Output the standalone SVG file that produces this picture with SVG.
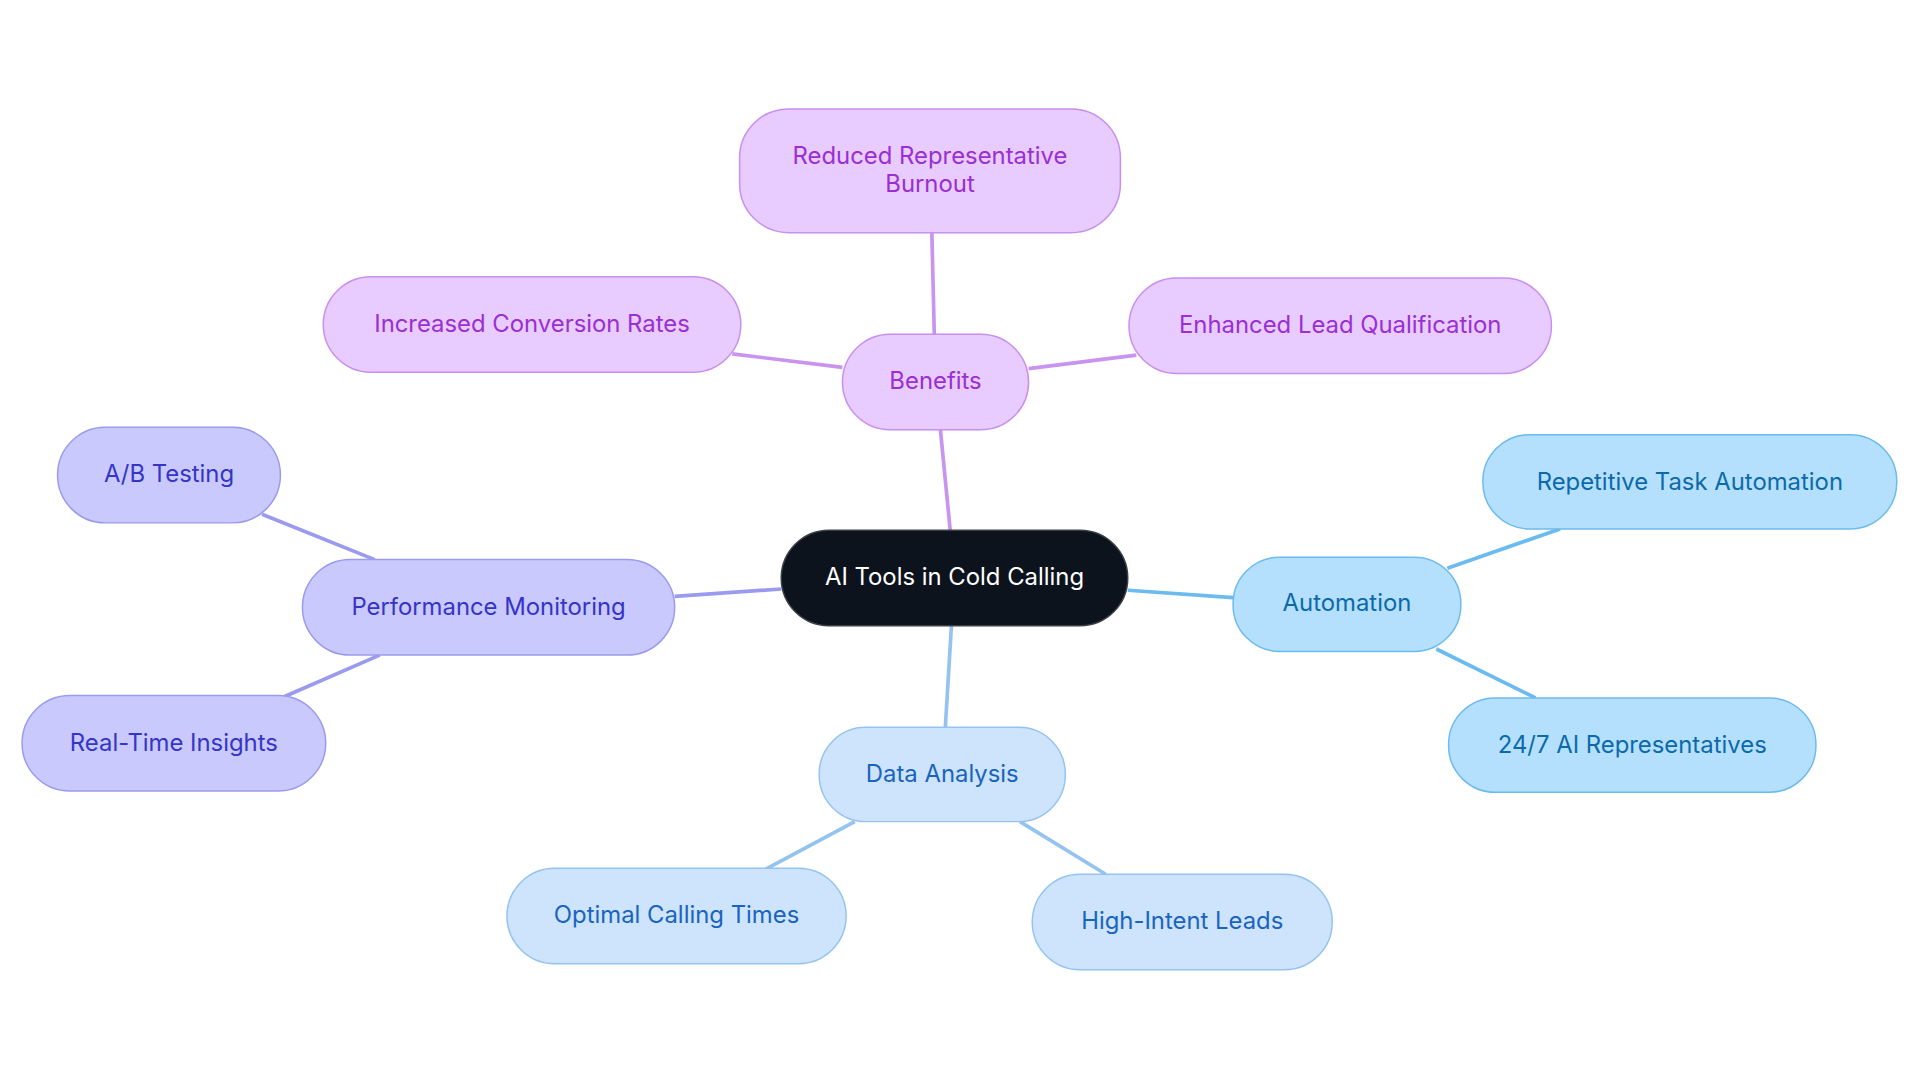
<svg xmlns="http://www.w3.org/2000/svg" width="1920" height="1083" viewBox="0 0 1920 1083">
<style>
text{font-family:Inter,"Noto Sans",sans-serif;font-size:19.5px;text-anchor:middle;dominant-baseline:central}
.p rect{fill:#e8cbff;stroke:#c88ef0;stroke-width:1.2}.p text{fill:#9a2fd3}
.v rect{fill:#c9c9fd;stroke:#9a9af0;stroke-width:1.2}.v text{fill:#3535c8}
.a rect{fill:#b5e0fd;stroke:#6bbaf0;stroke-width:1.2}.a text{fill:#0c6aaa}
.d rect{fill:#cde4fc;stroke:#95c3f0;stroke-width:1.2}.d text{fill:#1a64c0}
#edges line{stroke-width:3;fill:none}
</style>
<rect width="1920" height="1083" fill="#fff"/>
<g transform="scale(1.2245)">
<g id="edges">
<g stroke="#c894f0"><line x1="776" y1="433" x2="768" y2="351"/><line x1="763" y1="273" x2="761" y2="190"/><line x1="688" y1="300" x2="598" y2="289"/><line x1="840" y1="301" x2="928" y2="290"/></g>
<g stroke="#9a9af0"><line x1="638" y1="481" x2="551" y2="487"/><line x1="306" y1="457" x2="214" y2="420"/><line x1="310" y1="535" x2="232" y2="569"/></g>
<g stroke="#6bbaf0"><line x1="921" y1="482" x2="1007" y2="488"/><line x1="1182" y1="464" x2="1274" y2="432"/><line x1="1173" y1="530" x2="1254" y2="570"/></g>
<g stroke="#95c3f0"><line x1="777" y1="511" x2="772" y2="594"/><line x1="698" y1="671" x2="625" y2="710"/><line x1="833" y1="671" x2="903" y2="714"/></g>
</g>
<g id="center"><rect x="638" y="433" width="283" height="78" rx="39" fill="#0d131c" stroke="#3a3f47" stroke-width="1.2"/><text x="779.5" y="471" fill="#fff">AI Tools in Cold Calling</text></g>
<g id="benefits" class="p"><rect x="688" y="273" width="152" height="78" rx="39"/><text x="764" y="311">Benefits</text></g>
<g id="burnout" class="p"><rect x="604" y="89" width="311" height="101" rx="40"/><text x="759.5" y="127">Reduced Representative</text><text x="759.5" y="150">Burnout</text></g>
<g id="conversion" class="p"><rect x="264" y="226" width="341" height="78" rx="39"/><text x="434.5" y="264">Increased Conversion Rates</text></g>
<g id="lead" class="p"><rect x="922" y="227" width="345" height="78" rx="39"/><text x="1094.5" y="265">Enhanced Lead Qualification</text></g>
<g id="perf" class="v"><rect x="247" y="457" width="304" height="78" rx="39"/><text x="399" y="495">Performance Monitoring</text></g>
<g id="ab" class="v"><rect x="47" y="349" width="182" height="78" rx="39"/><text x="138" y="387">A/B Testing</text></g>
<g id="rt" class="v"><rect x="18" y="568" width="248" height="78" rx="39"/><text x="142" y="606">Real-Time Insights</text></g>
<g id="auto" class="a"><rect x="1007" y="455" width="186" height="77" rx="38"/><text x="1100" y="492">Automation</text></g>
<g id="rep" class="a"><rect x="1211" y="355" width="338" height="77" rx="38"/><text x="1380" y="393">Repetitive Task Automation</text></g>
<g id="ai247" class="a"><rect x="1183" y="570" width="300" height="77" rx="38"/><text x="1333" y="608">24/7 AI Representatives</text></g>
<g id="data" class="d"><rect x="669" y="594" width="201" height="77" rx="38"/><text x="769.5" y="632">Data Analysis</text></g>
<g id="optimal" class="d"><rect x="414" y="709" width="277" height="78" rx="39"/><text x="552.5" y="747">Optimal Calling Times</text></g>
<g id="high" class="d"><rect x="843" y="714" width="245" height="78" rx="39"/><text x="965.5" y="752">High-Intent Leads</text></g>
</g>
</svg>
